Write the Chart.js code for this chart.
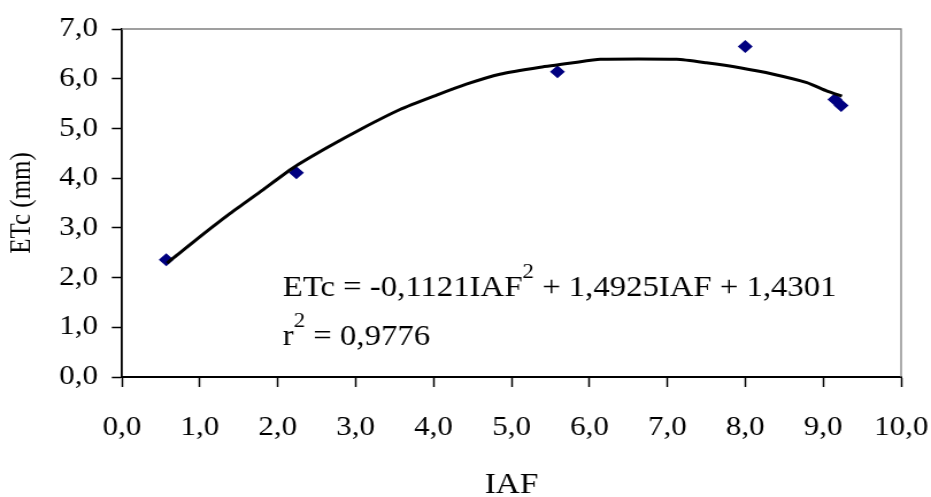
<!DOCTYPE html>
<html>
<head>
<meta charset="utf-8">
<script src="https://cdn.jsdelivr.net/npm/chart.js@4/dist/chart.umd.min.js"></script>
<style>
  html, body { margin: 0; padding: 0; background: #fff; overflow: hidden; }
  /* 元画像は横方向に引き伸ばされているので同じ比率で拡大 */
  #wrap { width: 810px; height: 497px; transform: scaleX(1.1494); transform-origin: 0 0; }
</style>
</head>
<body>
<div id="wrap"><canvas id="etc-chart"></canvas></div>
<script>
// 観測値 (IAF, ETc)
const iafObs = [0.57, 2.24, 5.59, 8.00, 9.15, 9.23];
const etcObs = [2.36, 4.11, 6.14, 6.65, 5.58, 5.46];

// トレンドライン（画像から読み取った点）
const iafTrend = [0.58, 0.92, 1.39, 1.77, 2.20, 2.63, 3.06, 3.57, 4.04, 4.42, 4.85, 5.37, 5.79, 6.14, 7.12, 7.50, 7.93, 8.36, 8.79, 9.05, 9.24];
const etcTrend = [2.29, 2.72, 3.29, 3.72, 4.21, 4.61, 4.98, 5.38, 5.67, 5.89, 6.09, 6.23, 6.32, 6.39, 6.39, 6.32, 6.22, 6.09, 5.92, 5.75, 5.65];

// 軸ラベル
const xTickLabels = ['0,0', '1,0', '2,0', '3,0', '4,0', '5,0', '6,0', '7,0', '8,0', '9,0', '10,0'];
const yTickLabels = ['0,0', '1,0', '2,0', '3,0', '4,0', '5,0', '6,0', '7,0'];

const FONT = '"Liberation Serif", "Times New Roman", serif';

/**
 * 枠線（上と右）と回帰式の描画
 */
const framePlugin = {
  id: 'frame',
  beforeDatasetsDraw(chart) {
    const { ctx, chartArea: a } = chart;
    ctx.save();
    ctx.strokeStyle = '#808080';
    ctx.lineWidth = 1.3;
    ctx.beginPath();
    ctx.moveTo(a.left, a.top);
    ctx.lineTo(a.right, a.top);
    ctx.lineTo(a.right, a.bottom);
    ctx.stroke();
    ctx.restore();
  },
  afterDraw(chart) {
    const ctx = chart.ctx;
    ctx.save();
    ctx.fillStyle = '#000';
    ctx.textBaseline = 'alphabetic';
    const drawParts = (parts, x, y) => {
      parts.forEach(p => {
        ctx.font = (p.sup ? '20px ' : '28.5px ') + FONT;
        const dy = p.sup ? -18 : 0;
        ctx.fillText(p.t, x, y + dy);
        x += ctx.measureText(p.t).width;
      });
    };
    drawParts([{ t: 'ETc = -0,1121IAF' }, { t: '2', sup: true }, { t: ' + 1,4925IAF + 1,4301' }], 246, 296);
    drawParts([{ t: 'r' }, { t: '2', sup: true }, { t: ' = 0,9776' }], 246, 345);
    ctx.restore();
  }
};

/**
 * ETc vs IAF チャートの初期化
 */
function initEtcChart() {
  const ctx = document.getElementById('etc-chart').getContext('2d');

  new Chart(ctx, {
    type: 'scatter',
    data: {
      datasets: [{
        label: 'Tendência',
        data: iafTrend.map((x, i) => ({ x: x, y: etcTrend[i] })),
        showLine: true,
        borderColor: '#000',
        borderWidth: 3,
        pointRadius: 0,
        tension: 0.2,
        order: 0
      }, {
        label: 'ETc',
        data: iafObs.map((x, i) => ({ x: x, y: etcObs[i] })),
        pointStyle: 'rectRot',
        pointRadius: 6.5,
        backgroundColor: '#000080',
        borderColor: '#000080',
        borderWidth: 0,
        order: 1
      }]
    },
    options: {
      responsive: true,
      maintainAspectRatio: false,
      animation: false,
      layout: { padding: { top: 29, right: 26, bottom: 0, left: 0 } },
      plugins: {
        legend: { display: false },
        tooltip: { enabled: false }
      },
      scales: {
        x: {
          type: 'linear',
          min: 0,
          max: 10,
          afterFit: scale => {
            scale.height = 120;
            // ラベルのはみ出し分で描画領域が狭くならないように
            scale.paddingLeft = 0;
            scale.paddingRight = 0;
          },
          grid: { drawOnChartArea: false, color: '#000', tickLength: 10, tickWidth: 1.5 },
          border: { color: '#000', width: 2 },
          ticks: {
            stepSize: 1,
            padding: 25,
            color: '#000',
            font: { family: FONT, size: 27 },
            maxRotation: 0,
            callback: function(value) {
              return xTickLabels[Math.round(value)];
            }
          },
          title: {
            display: true,
            text: 'IAF',
            color: '#000',
            font: { family: FONT, size: 29, lineHeight: 0.8 },
            padding: { top: 0, bottom: 0 }
          }
        },
        y: {
          min: 0,
          max: 7,
          afterFit: scale => { scale.width = 106; },
          grid: { drawOnChartArea: false, color: '#000', tickLength: 8.7, tickWidth: 1.5 },
          border: { color: '#000', width: 1.8 },
          ticks: {
            stepSize: 1,
            padding: 12,
            color: '#000',
            font: { family: FONT, size: 27 },
            callback: function(value) {
              return yTickLabels[Math.round(value)];
            }
          },
          title: {
            display: true,
            text: 'ETc (mm)',
            color: '#000',
            font: { family: FONT, size: 25, lineHeight: 1.2 },
            padding: { top: 4.5, bottom: 0 }
          }
        }
      }
    },
    plugins: [framePlugin]
  });
}

initEtcChart();
</script>
</body>
</html>
